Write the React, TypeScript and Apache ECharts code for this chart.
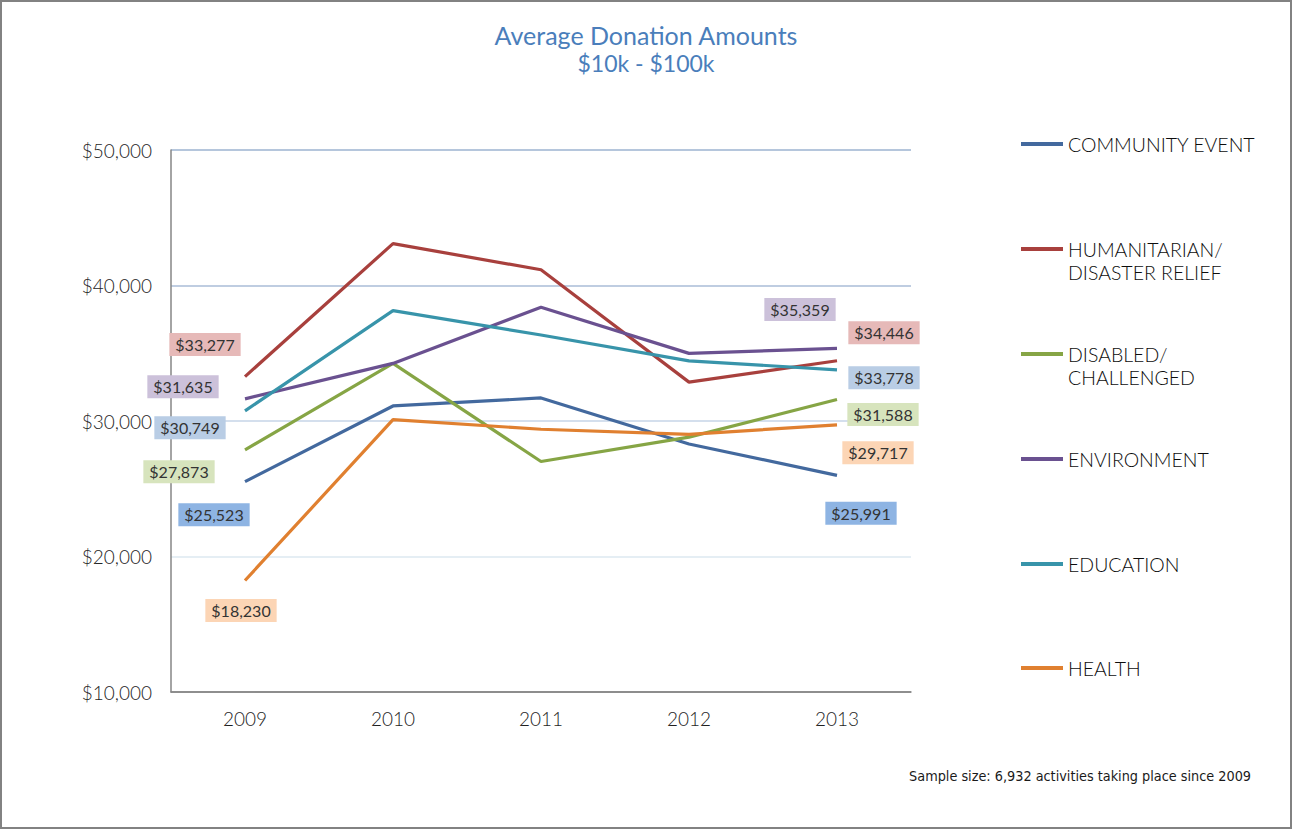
import React, { useEffect, useRef } from "react";
import * as echarts from "echarts";

const years = ["2009", "2010", "2011", "2012", "2013"];
const seriesNames = [
  "COMMUNITY EVENT",
  "HUMANITARIAN/\nDISASTER RELIEF",
  "DISABLED/\nCHALLENGED",
  "ENVIRONMENT",
  "EDUCATION",
  "HEALTH",
];
const communityEvent = [25523, 31110, 31700, 28300, 25991];
const humanitarian = [33277, 43090, 41160, 32870, 34446];
const disabled = [27873, 34250, 27010, 28810, 31588];
const environment = [31635, 34250, 38400, 34990, 35359];
const education = [30749, 38150, 36350, 34440, 33778];
const health = [18230, 30100, 29390, 29010, 29717];
const yTicks = [10000, 20000, 30000, 40000, 50000];

const seriesValues = [communityEvent, humanitarian, disabled, environment, education, health];
const lineColors = ["#43699e", "#a8403d", "#86a545", "#6a5190", "#3894aa", "#e08030"];
const labelBg = ["#8eb4e3", "#e6b9b8", "#d7e4bd", "#ccc1da", "#b9cde5", "#fcd5b5"];
// label offsets (first point, last point)
const labelOffsets = [
  [[-31, 33], [24, 38]],
  [[-40, -32], [47, -28]],
  [[-66, 22], [46, 15]],
  [[-62, -12], [-37, -39]],
  [[-55, 17], [47, 8]],
  [[-4, 30], [41, 28]],
];
const legendCenters = [144, 249, 354, 459, 564, 668];

const fmt = (v: number) => "$" + v.toLocaleString("en-US");
const FONT = "Lato, 'Open Sans', sans-serif";

export default function App() {
  const ref = useRef<HTMLDivElement>(null);
  useEffect(() => {
    document.body.style.margin = "0";
    const chart = echarts.init(ref.current!, null, { renderer: "svg" });
    const series = seriesNames.map((name, i) => ({
      name,
      type: "line",
      data: seriesValues[i].map((v, j) => {
        const last = seriesValues[i].length - 1;
        if (j === 0 || j === last) {
          const off = labelOffsets[i][j === 0 ? 0 : 1];
          return {
            value: v,
            label: {
              show: true,
              position: "inside",
              offset: off,
              formatter: fmt(v),
              backgroundColor: labelBg[i],
              color: "#333333",
              fontSize: 16,
              fontFamily: FONT,
              padding: [4, 6, 3, 6],
            },
          };
        }
        return v;
      }),
      symbol: "circle",
      symbolSize: 0,
      showSymbol: true,
      lineStyle: { color: lineColors[i], width: 3.2 },
      itemStyle: { color: lineColors[i] },
      emphasis: { disabled: true },
      z: 2,
    }));
    const legends = seriesNames.map((name, i) => {
      const twoLine = name.includes("\n");
      return {
        data: [name],
        orient: "vertical",
        left: 1021,
        top: legendCenters[i] - (twoLine ? 34.5 : 11.5),
        padding: 0,
        icon: "rect",
        itemWidth: 42,
        itemHeight: 4,
        selectedMode: false,
        formatter: (n: string) => (twoLine ? " \n" + n : n),
        textStyle: {
          color: "#0d0d0d",
          fontSize: 19.5,
          fontFamily: FONT,
          fontWeight: 300,
          lineHeight: 23,
        },
      };
    });
    chart.setOption({
      animation: false,
      backgroundColor: "#ffffff",
      title: [
        {
          text: "Average Donation Amounts",
          left: "center",
          top: 21,
          padding: 0,
          textStyle: {
            color: "#4a7ebb",
            fontSize: 25,
            fontWeight: "normal",
            fontFamily: FONT,
            lineHeight: 28,
          },
        },
        {
          text: "$10k - $100k",
          left: "center",
          top: 49,
          padding: 0,
          textStyle: {
            color: "#4a7ebb",
            fontSize: 23,
            fontWeight: "normal",
            fontFamily: FONT,
            lineHeight: 28,
          },
        },
        {
          text: "Sample size: 6,932 activities taking place since 2009",
          right: 41,
          top: 766,
          padding: 0,
          textStyle: {
            color: "#1a1a1a",
            fontSize: 14.3,
            fontWeight: "normal",
            fontFamily: "'Liberation Sans Narrow', 'DejaVu Sans Condensed', sans-serif",
            lineHeight: 20,
          },
        },
      ],
      legend: legends,
      grid: { left: 171, right: 381, top: 150, bottom: 137, containLabel: false },
      xAxis: {
        type: "category",
        data: years,
        boundaryGap: true,
        axisLine: { lineStyle: { color: "#868686", width: 1.5 } },
        axisTick: { show: false },
        axisLabel: { color: "#1f1f1f", fontSize: 19, fontFamily: FONT, fontWeight: 300, margin: 17 },
      },
      yAxis: {
        type: "value",
        min: yTicks[0],
        max: yTicks[yTicks.length - 1],
        interval: 10000,
        axisLine: { show: true, lineStyle: { color: "#868686", width: 1.5 } },
        axisTick: { show: false },
        axisLabel: {
          color: "#262626",
          fontSize: 19,
          fontFamily: FONT,
          fontWeight: 300,
          margin: 19,
          formatter: (v: number) => fmt(v),
        },
        splitLine: {
          show: true,
          lineStyle: {
            color: ["#868686", "#dde8f1", "#c6d5e7", "#aabdd7", "#9cb3d1"],
            width: 1.5,
          },
        },
      },
      series,
    });
    return () => chart.dispose();
  }, []);
  return (
    <div style={{ position: "relative", width: 1292, height: 829 }}>
      <div ref={ref} style={{ width: 1292, height: 829 }} />
      <div
        style={{
          position: "absolute",
          left: 0,
          top: 0,
          width: 1292,
          height: 829,
          boxSizing: "border-box",
          border: "2px solid #828282",
          pointerEvents: "none",
        }}
      />
    </div>
  );
}
